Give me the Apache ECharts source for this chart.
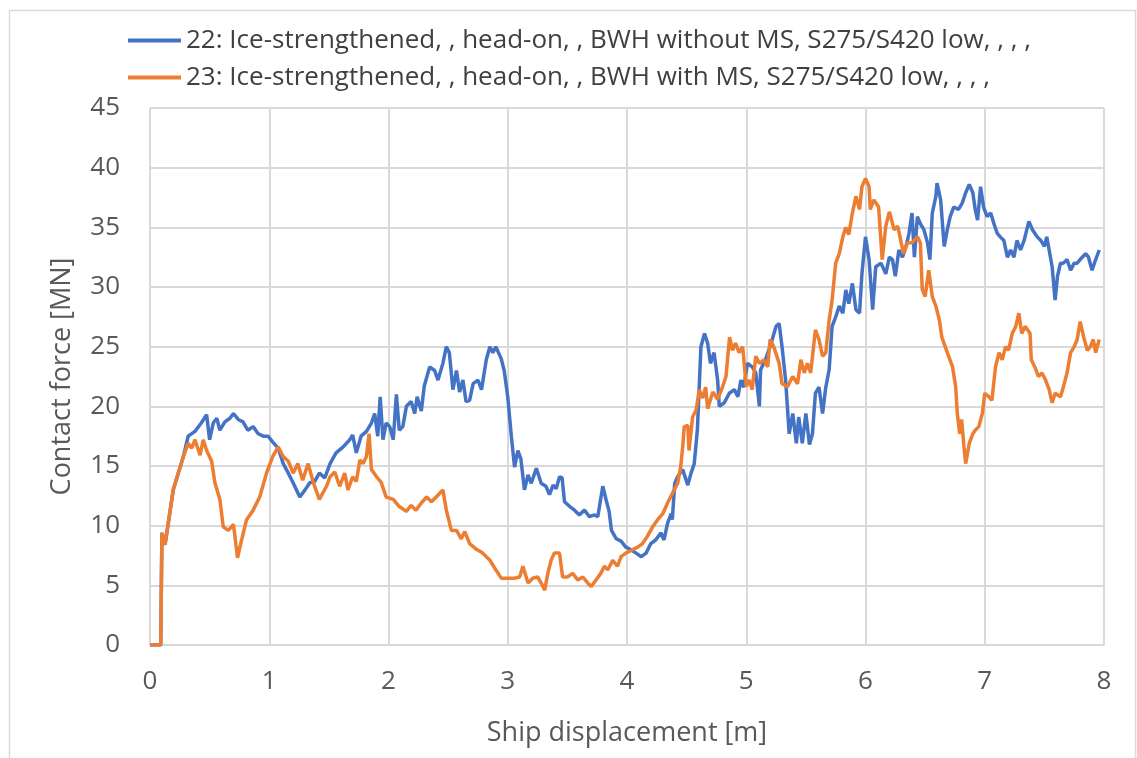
<!DOCTYPE html>
<html>
<head>
<meta charset="utf-8">
<script src="https://cdn.jsdelivr.net/npm/echarts@6/dist/echarts.min.js"></script>
<style>
html,body{margin:0;padding:0;background:#fff;}
#chart{width:1137px;height:758px;}
</style>
</head>
<body>
<div id="chart"></div>
<script>
const seriesNames = [
  "22: Ice-strengthened, , head-on, , BWH without MS, S275/S420 low, , , ,",
  "23: Ice-strengthened, , head-on, , BWH with MS, S275/S420 low, , , ,"
];
const xTicks = [0, 1, 2, 3, 4, 5, 6, 7, 8];
const yTicks = [0, 5, 10, 15, 20, 25, 30, 35, 40, 45];

const blueX = [0,0.09,0.10,0.126,0.153,0.195,0.237,0.28,0.32,0.377,0.43,0.475,0.50,0.53,0.56,0.586,0.628,0.67,0.70,0.74,0.78,0.82,0.865,0.907,0.95,0.99,1.03,1.075,1.117,1.16,1.2,1.256,1.3,1.34,1.38,1.42,1.466,1.51,1.56,1.62,1.675,1.70,1.73,1.77,1.815,1.857,1.884,1.91,1.93,1.954,1.98,2.01,2.04,2.066,2.09,2.12,2.15,2.19,2.22,2.24,2.275,2.30,2.345,2.387,2.415,2.456,2.485,2.51,2.54,2.57,2.596,2.624,2.65,2.68,2.71,2.75,2.78,2.82,2.85,2.875,2.90,2.945,2.97,3.0,3.03,3.057,3.085,3.11,3.14,3.17,3.197,3.24,3.28,3.32,3.35,3.38,3.406,3.434,3.456,3.476,3.52,3.56,3.6,3.643,3.685,3.727,3.755,3.797,3.825,3.85,3.87,3.91,3.95,3.99,4.03,4.076,4.12,4.16,4.2,4.24,4.285,4.31,4.34,4.37,4.38,4.4,4.425,4.467,4.51,4.537,4.564,4.59,4.62,4.65,4.676,4.70,4.73,4.76,4.774,4.816,4.858,4.9,4.93,4.955,4.98,5.01,5.05,5.08,5.11,5.12,5.16,5.2,5.25,5.276,5.3,5.33,5.36,5.39,5.42,5.44,5.47,5.5,5.53,5.555,5.58,5.61,5.64,5.667,5.695,5.72,5.75,5.78,5.81,5.835,5.86,5.89,5.92,5.95,5.97,6.0,6.03,6.06,6.086,6.13,6.17,6.2,6.226,6.25,6.28,6.31,6.34,6.365,6.39,6.41,6.435,6.46,6.49,6.52,6.54,6.56,6.59,6.6,6.63,6.66,6.686,6.71,6.74,6.78,6.81,6.84,6.87,6.9,6.92,6.94,6.965,6.99,7.02,7.05,7.077,7.105,7.13,7.16,7.19,7.217,7.245,7.27,7.3,7.33,7.37,7.4,7.44,7.47,7.5,7.52,7.54,7.565,7.59,7.61,7.635,7.66,7.69,7.72,7.75,7.775,7.8,7.846,7.87,7.9,7.93,7.96];
const blueY = [0,0,9.4,8.4,10.2,13.0,14.4,15.8,17.5,17.9,18.6,19.3,17.2,18.6,19.0,18.0,18.7,19.0,19.4,18.9,18.7,18.0,18.3,17.7,17.5,17.5,17.0,16.5,15.2,14.4,13.6,12.4,13.0,13.6,13.7,14.4,14.0,15.2,16.1,16.6,17.2,17.6,16.1,17.5,17.9,18.6,19.4,17.5,20.8,17.2,18.6,18.3,17.2,21.0,18.0,18.3,20.0,20.4,19.4,20.8,19.6,21.7,23.3,23.0,22.2,23.6,25.0,24.5,21.4,23.0,21.2,22.2,20.4,20.5,21.9,22.2,21.4,23.9,25.0,24.5,25.0,24.0,23.0,20.8,17.5,14.9,16.3,15.6,13.0,14.25,13.55,14.8,13.55,13.3,12.6,13.4,13.1,14.1,14.0,12.0,11.6,11.3,10.9,11.3,10.75,10.9,10.75,13.3,12.15,11.2,9.6,8.9,8.7,8.2,8.0,7.7,7.4,7.7,8.5,8.8,9.4,8.8,10.2,11.0,10.5,13.55,14.1,14.7,13.4,14.4,15.2,18.0,25.0,26.1,25.3,23.6,24.5,22.2,20.0,20.3,21.1,21.4,20.8,22.2,21.6,23.6,23.3,22.8,20.0,23.05,23.9,25.0,26.7,26.95,25.0,22.2,17.7,19.4,16.9,19.1,16.9,19.4,16.8,17.7,21.1,21.6,19.4,21.6,23.05,26.7,27.5,28.4,27.8,29.75,28.6,30.3,28.1,27.8,31.1,34.2,32.3,28.1,31.7,32.0,31.1,32.5,32.3,30.9,33.1,32.5,33.4,34.5,36.2,32.5,35.9,35.3,34.8,33.7,32.3,36.2,37.6,38.7,37.3,33.4,34.8,35.9,36.7,36.5,37.0,37.9,38.6,37.9,36.5,35.6,38.4,36.7,35.9,36.2,35.3,34.5,34.2,33.9,32.5,33.1,32.5,33.9,33.1,33.9,35.5,34.8,34.2,33.9,33.4,34.2,33.1,31.7,28.9,30.9,32.0,32.0,32.3,31.4,32.0,32.0,32.3,32.8,32.5,31.4,32.3,33.1];

const orangeX = [0,0.09,0.10,0.126,0.153,0.195,0.237,0.28,0.32,0.35,0.377,0.42,0.446,0.475,0.517,0.544,0.586,0.614,0.656,0.70,0.734,0.768,0.81,0.865,0.92,0.977,1.03,1.075,1.117,1.16,1.2,1.24,1.28,1.326,1.37,1.42,1.48,1.51,1.55,1.59,1.633,1.66,1.70,1.73,1.76,1.787,1.815,1.837,1.857,1.9,1.94,1.98,2.04,2.09,2.15,2.19,2.23,2.275,2.32,2.36,2.40,2.456,2.485,2.527,2.57,2.61,2.64,2.68,2.74,2.79,2.85,2.90,2.945,3.0,3.057,3.1,3.127,3.17,3.21,3.25,3.28,3.31,3.336,3.364,3.39,3.434,3.46,3.5,3.545,3.587,3.63,3.67,3.7,3.74,3.78,3.81,3.84,3.88,3.92,3.95,3.99,4.05,4.09,4.13,4.17,4.215,4.257,4.3,4.34,4.38,4.425,4.45,4.467,4.48,4.51,4.52,4.55,4.58,4.606,4.634,4.66,4.676,4.72,4.76,4.8,4.83,4.86,4.885,4.91,4.94,4.97,5.0,5.025,5.05,5.08,5.11,5.15,5.18,5.2,5.23,5.276,5.3,5.346,5.39,5.43,5.458,5.486,5.513,5.54,5.58,5.61,5.64,5.667,5.695,5.72,5.75,5.78,5.81,5.835,5.86,5.89,5.92,5.95,5.97,6.0,6.03,6.04,6.07,6.11,6.14,6.17,6.2,6.24,6.27,6.3,6.32,6.35,6.39,6.435,6.46,6.476,6.5,6.53,6.56,6.59,6.62,6.64,6.686,6.73,6.756,6.77,6.79,6.806,6.826,6.84,6.87,6.9,6.92,6.95,6.98,7.0,7.035,7.06,7.09,7.12,7.146,7.175,7.2,7.23,7.26,7.286,7.31,7.34,7.38,7.39,7.42,7.45,7.48,7.51,7.54,7.565,7.59,7.635,7.66,7.69,7.72,7.75,7.775,7.8,7.83,7.86,7.886,7.91,7.93,7.96];
const orangeY = [0,0,9.4,8.4,10.2,13.0,14.4,15.8,16.9,16.5,17.2,15.9,17.2,16.3,15.4,13.6,12.2,9.9,9.6,10.1,7.3,8.8,10.5,11.3,12.4,14.4,15.8,16.6,15.8,15.4,14.4,15.2,13.8,15.2,13.6,12.2,13.3,14.1,14.5,13.3,14.4,13.0,14.1,13.7,15.5,15.2,15.8,17.7,14.7,14.1,13.6,12.4,12.2,11.6,11.2,11.7,11.3,11.9,12.4,12.0,12.4,13.0,11.3,9.6,9.6,8.9,9.5,8.5,8.0,7.7,7.1,6.3,5.6,5.6,5.6,5.7,6.6,5.2,5.6,5.7,5.2,4.6,6.0,7.1,7.7,7.7,5.7,5.7,6.0,5.45,5.7,5.2,4.9,5.45,6.0,6.6,6.3,7.1,6.6,7.4,7.7,8.0,8.2,8.5,9.1,9.9,10.5,11.0,11.9,12.7,13.55,14.9,16.6,18.3,18.4,16.3,19.1,19.7,21.4,20.7,21.6,19.8,21.2,20.6,21.6,22.5,25.8,24.7,25.3,24.5,25.0,21.65,22.2,21.4,24.2,23.6,23.9,23.3,25.6,25.0,23.6,21.9,21.65,22.5,21.9,23.9,22.8,23.6,22.8,26.4,25.6,24.2,24.5,27.2,28.9,32.0,32.8,34.2,35.0,34.4,36.2,37.6,36.5,38.4,39.1,38.4,36.5,37.3,36.7,32.3,35.1,36.3,34.8,35.1,33.7,32.8,33.7,33.7,34.2,33.7,29.8,29.2,31.4,29.2,28.4,27.2,25.8,24.5,23.3,21.65,19.4,17.7,18.9,16.6,15.2,16.9,17.7,18.0,18.3,19.4,21.1,20.8,20.5,23.3,24.5,23.9,25.0,24.7,26.1,26.7,27.8,26.1,26.7,26.1,23.9,23.3,22.5,22.8,22.2,21.4,20.3,21.1,20.8,21.65,22.8,24.5,25.0,25.6,27.1,25.8,24.7,25.0,25.6,24.5,25.6];

const zip = (xs, ys) => xs.map((x, i) => [x, ys[i]]);

const FONT = 'Open Sans';
const chart = echarts.init(document.getElementById('chart'), null, {renderer: 'canvas'});
chart.setOption({
  animation: false,
  backgroundColor: '#ffffff',
  graphic: [{
    type: 'rect', left: 7, top: 8, z: -10,
    shape: {width: 1126, height: 760},
    style: {fill: 'none', stroke: '#d9d9d9', lineWidth: 1.5}
  }],
  legend: {
    orient: 'vertical',
    left: 123, top: 21,
    icon: 'rect',
    itemWidth: 53, itemHeight: 4, itemGap: 8,
    textStyle: {fontFamily: FONT, fontSize: 26, color: '#404040', padding: [0, 0, 0, 0], lineHeight: 29},
    data: seriesNames
  },
  grid: {left: 150, right: 33, top: 108, bottom: 113, containLabel: false},
  xAxis: {
    type: 'value', min: xTicks[0], max: xTicks[xTicks.length - 1], interval: 1,
    name: 'Ship displacement [m]', nameLocation: 'middle', nameGap: 75,
    nameTextStyle: {fontFamily: FONT, fontSize: 27, color: '#595959'},
    axisLine: {show: true, lineStyle: {color: '#d9d9d9', width: 2}},
    axisTick: {show: false},
    axisLabel: {fontFamily: FONT, fontSize: 26, color: '#595959', margin: 24},
    splitLine: {show: true, lineStyle: {color: '#d9d9d9', width: 2}}
  },
  yAxis: {
    type: 'value', min: yTicks[0], max: yTicks[yTicks.length - 1], interval: 5,
    name: 'Contact force [MN]', nameLocation: 'middle', nameGap: 74, nameRotate: 90,
    nameTextStyle: {fontFamily: FONT, fontSize: 27, color: '#595959'},
    axisLine: {show: false},
    axisTick: {show: false},
    axisLabel: {fontFamily: FONT, fontSize: 26, color: '#595959', margin: 30},
    splitLine: {show: true, lineStyle: {color: '#d9d9d9', width: 2}}
  },
  series: [
    {name: seriesNames[0], type: 'line', data: zip(blueX, blueY), symbol: 'none',
     lineStyle: {color: '#4472C4', width: 3.5}, itemStyle: {color: '#4472C4'}},
    {name: seriesNames[1], type: 'line', data: zip(orangeX, orangeY), symbol: 'none',
     lineStyle: {color: '#ED7D31', width: 3.5}, itemStyle: {color: '#ED7D31'}}
  ]
});
</script>
</body>
</html>
